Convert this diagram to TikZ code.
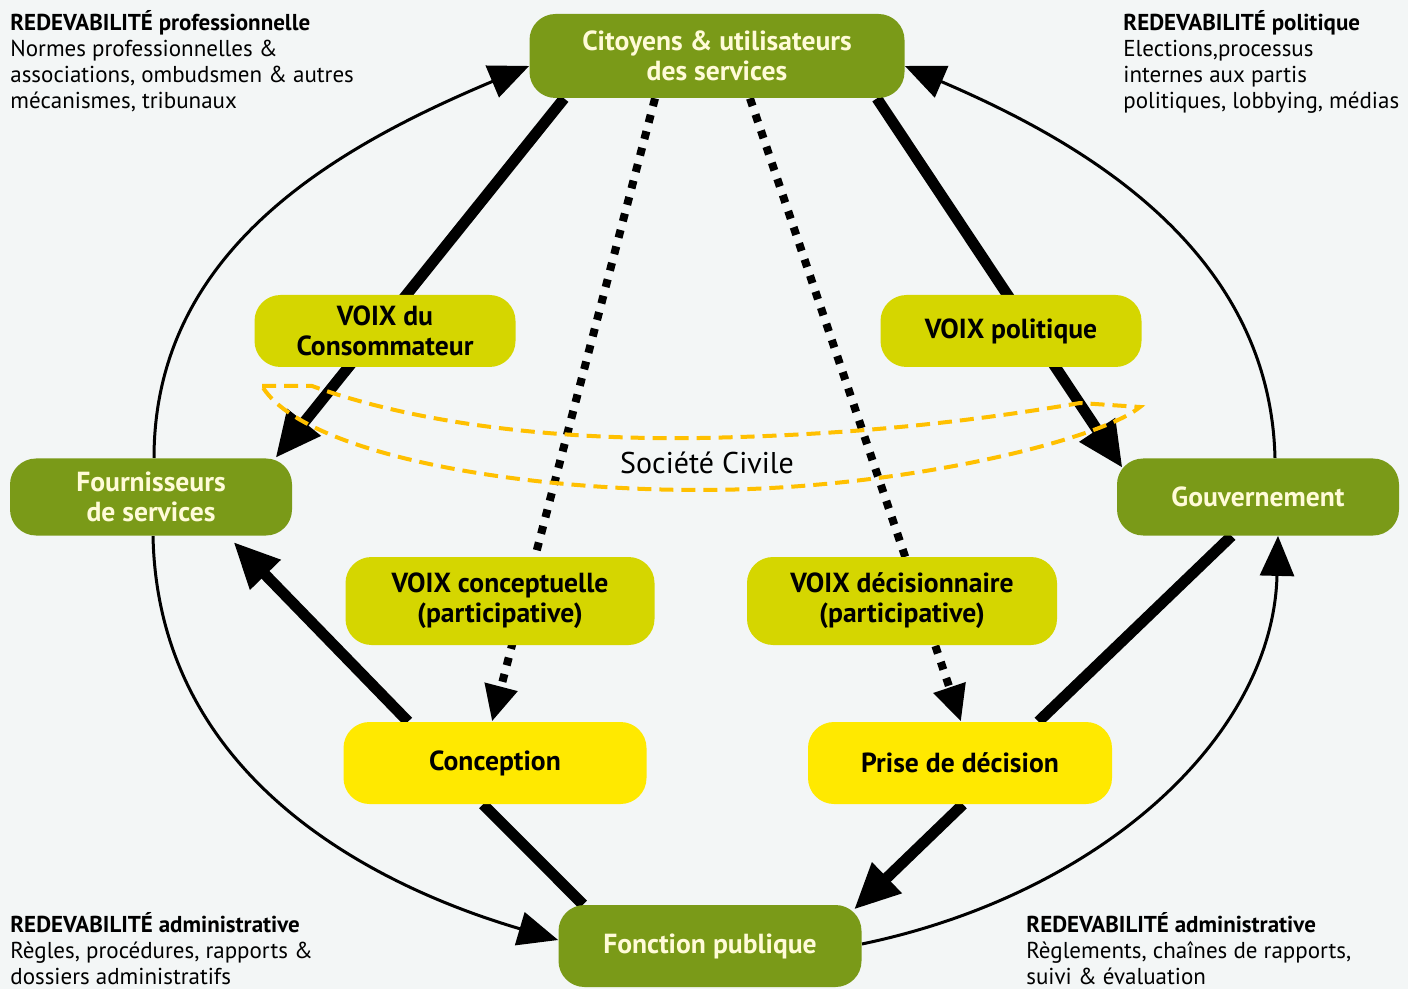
\documentclass[tikz,border=0pt]{standalone}
\usepackage{fontspec}
\setmainfont{PT Sans}
\usetikzlibrary{calc,arrows.meta}
\definecolor{fond}{HTML}{F3F6F6}
\definecolor{vert}{HTML}{7A9A18}
\definecolor{creme}{HTML}{FFFBD8}
\definecolor{voix}{HTML}{D5D600}
\definecolor{jaune}{HTML}{FFE900}
\definecolor{orsoc}{HTML}{FFC000}
\pgfdeclarelayer{fondplan}
\pgfdeclarelayer{anneau}
\pgfsetlayers{fondplan,anneau,main}
\tikzset{
  boite/.style={rounded corners=13pt, align=center, inner sep=0pt, font=\bfseries\fontsize{13.8}{15}\selectfont},
  acteur/.style={boite, fill=vert, text=creme},
  voixbox/.style={boite, fill=voix, text=black},
  etape/.style={boite, fill=jaune, text=black},
  coin/.style={anchor=north west, inner sep=0pt, align=left, font=\fontsize{11.5}{13}\selectfont},
  epais/.style={draw=black, line width=5.5pt},
  fleche/.style={epais, -{Triangle[length=23pt,width=20pt]}},
  pointille/.style={draw=black, line width=4pt, dash pattern=on 4pt off 4.5pt, -{Triangle[length=18pt,width=16pt]}},
  fin/.style={draw=black, line width=1.5pt, -{Triangle[length=20pt,width=17pt]}},
  societe/.style={draw=orsoc, line width=2pt, dash pattern=on 7pt off 4pt}
}

\begin{document}
\begin{tikzpicture}[x=0.5pt, y=-0.5pt, line join=round]
  \useasboundingbox (0,0) rectangle (1408,989);
  \begin{pgfonlayer}{fondplan}
    \fill[fond] (0,0) rectangle (1408,989);
  \end{pgfonlayer}

  % acteurs
  \node[acteur, minimum width=187.5pt, minimum height=42pt] (citoyens) at (717,56) {Citoyens \& utilisateurs\\des services};
  \node[acteur, minimum width=141pt, minimum height=38.5pt] (fournisseurs) at (151,497) {Fournisseurs\\de services};
  \node[acteur, minimum width=141pt, minimum height=38.5pt] (gouvernement) at (1258,497) {Gouvernement};
  \node[acteur, minimum width=151.5pt, minimum height=41pt] (fonction) at (710,946) {Fonction publique};

  % voix
  \node[voixbox, minimum width=130.5pt, minimum height=36pt] (voixconso) at (385,331) {VOIX du\\Consommateur};
  \node[voixbox, minimum width=130.5pt, minimum height=36pt] (voixpol) at (1011,331) {VOIX politique};
  \node[voixbox, minimum width=154.5pt, minimum height=44pt] (voixconc) at (500,601) {VOIX conceptuelle\\(participative)};
  \node[voixbox, minimum width=155pt, minimum height=44pt] (voixdec) at (902,601) {VOIX décisionnaire\\(participative)};

  % etapes
  \node[etape, minimum width=151.5pt, minimum height=41pt] (conception) at (495,763) {Conception};
  \node[etape, minimum width=152pt, minimum height=41pt] (prise) at (960,763) {Prise de décision};

  \node[font=\fontsize{15}{17}\selectfont] (civile) at (707,463) {Société Civile};

  % textes de redevabilite
  \node[coin] (redpro) at (10,10) {\textbf{REDEVABILITÉ professionnelle}\\Normes professionnelles \&\\associations, ombudsmen \& autres\\mécanismes, tribunaux};
  \node[coin] (redpol) at (1123,10) {\textbf{REDEVABILITÉ politique}\\Elections,processus\\internes aux partis\\politiques, lobbying, médias};
  \node[coin] (redadm) at (10,912) {\textbf{REDEVABILITÉ administrative}\\Règles, procédures, rapports \&\\dossiers administratifs};
  \node[coin] (redsuivi) at (1026,912) {\textbf{REDEVABILITÉ administrative}\\Règlements, chaînes de rapports,\\suivi \& évaluation};

  \begin{pgfonlayer}{fondplan}
    % fleches epaisses
    \draw[fleche] ($(citoyens.south west)+(35,0)$) -- ($(fournisseurs.north east)+(-17,0)$);
    \draw[fleche] ($(citoyens.south east)+(-28,0)$) -- ($(gouvernement.north west)+(6,10)$);
    \draw[fleche] ($(conception.north west)+(65,0)$) -- ($(fournisseurs.south east)+(-59,6)$);
    \draw[epais] ($(conception.south)+(-12,0)$) -- ($(fonction.north west)+(25,0)$);
    \draw[fleche] ($(prise.south)+(3,0)$) -- ($(fonction.north east)+(-8,5)$);
    \draw[epais] ($(gouvernement.south west)+(115,0)$) -- ($(prise.north east)+(-74,0)$);
    % voix en pointilles
    \draw[pointille] ($(citoyens.south)+(-62,0)$) -- ($(conception.north)+(-3,0)$);
    \draw[pointille] ($(citoyens.south)+(33,0)$) -- ($(prise.north)+(1,0)$);
    % arcs de redevabilite
    \draw[fin] ($(fournisseurs.north)+(3,0)$) .. controls +(0,-210) and +(-190,80) .. ($(citoyens.west)+(0,10)$);
    \draw[fin] ($(fournisseurs.south)+(2,0)$) .. controls +(5,250) and +(-170,-50) .. ($(fonction.west)+(0,-6)$);
    \draw[fin] ($(gouvernement.north)+(17,0)$) .. controls +(-5,-210) and +(175,75) .. ($(citoyens.east)+(0,10)$);
    \draw[fin] ($(fonction.east)+(0,-2)$) .. controls +(240,-50) and +(-5,200) .. ($(gouvernement.south)+(20,0)$);
  \end{pgfonlayer}

  % societe civile
  \begin{pgfonlayer}{anneau}
    \draw[societe] (262,386) -- (312,386) .. controls (420,425) and (560,440) .. (700,438)
      .. controls (860,435) and (980,420) .. (1080,403) -- (1140,407)
      .. controls (1100,440) and (900,490) .. (700,490)
      .. controls (500,490) and (300,450) .. (262,386) -- cycle;
  \end{pgfonlayer}
\end{tikzpicture}
\end{document}
